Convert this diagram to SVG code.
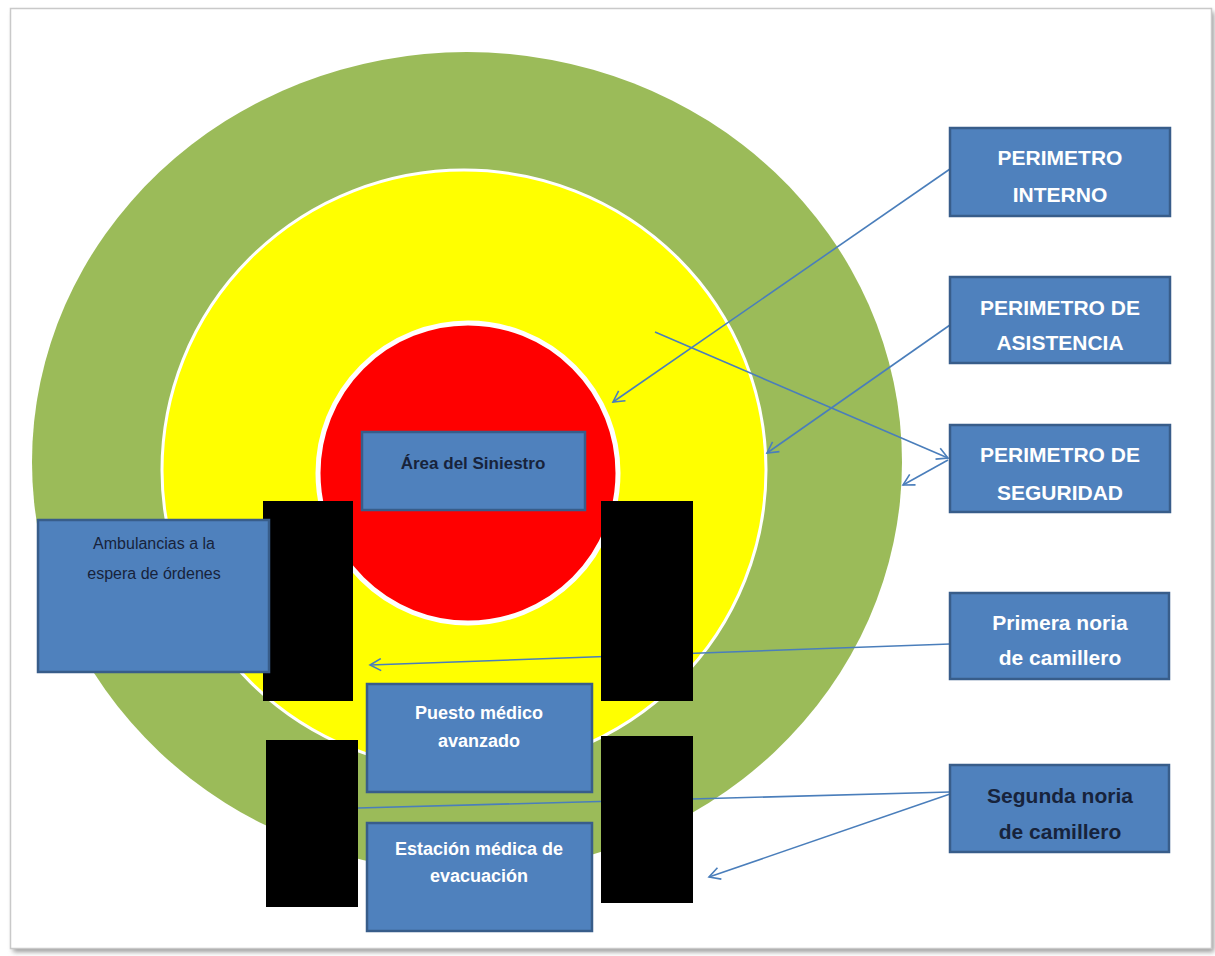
<svg xmlns="http://www.w3.org/2000/svg" width="1215" height="956" viewBox="0 0 1215 956">
  <style>
    .box { fill: #4f81bd; stroke: #385d8a; stroke-width: 2.5; }
    .blk { fill: #000000; }
    .conn { fill: none; stroke: #4a7ebb; stroke-width: 1.6; }
    .tw { font-family: "Liberation Sans", Arial, sans-serif; font-weight: bold; fill: #ffffff; text-anchor: middle; }
    .td { font-family: "Liberation Sans", Arial, sans-serif; font-weight: bold; fill: #17233b; text-anchor: middle; }
    .tr { font-family: "Liberation Sans", Arial, sans-serif; fill: #17233b; text-anchor: middle; }
  </style>
  <defs>
    <marker id="arr" markerUnits="userSpaceOnUse" markerWidth="14" markerHeight="14" refX="12" refY="7" orient="auto">
      <path d="M1,1 L12,7 L1,13" fill="none" stroke="#4a7ebb" stroke-width="1.6"/>
    </marker>
    <filter id="sh" x="-5%" y="-5%" width="110%" height="110%">
      <feGaussianBlur stdDeviation="2.5"/>
    </filter>
  </defs>

  <rect x="0" y="0" width="1215" height="956" fill="#ffffff"/>
  <!-- frame -->
  <g id="frame">
    <rect x="13" y="12" width="1201" height="940" fill="#9a9a9a" filter="url(#sh)"/>
    <rect x="10.5" y="8.5" width="1201" height="940" fill="#ffffff" stroke="#c9c9c9" stroke-width="1.5"/>
  </g>

  <!-- rings -->
  <g id="perimetro-seguridad-zone">
    <ellipse cx="467" cy="462" rx="435" ry="410" fill="#9bbb59"/>
  </g>
  <g id="perimetro-asistencia-zone">
    <ellipse cx="464" cy="470" rx="302" ry="300" fill="#ffff00" stroke="#ffffff" stroke-width="3"/>
  </g>
  <g id="perimetro-interno-zone">
    <circle cx="468" cy="473" r="150" fill="#ff0000" stroke="#ffffff" stroke-width="5"/>
  </g>

  <!-- connectors -->
  <g id="connectors">
    <path class="conn" d="M950,169 L613,402" marker-end="url(#arr)"/>
    <path class="conn" d="M950,325 L767,453" marker-end="url(#arr)"/>
    <path class="conn" d="M655,332 L948,458" marker-end="url(#arr)"/>
    <path class="conn" d="M948,460 L903,485" marker-end="url(#arr)"/>
    <path class="conn" d="M950,644 L370,665" marker-end="url(#arr)"/>
    <path class="conn" d="M950,792 L358,808"/>
    <path class="conn" d="M950,794 L709,877" marker-end="url(#arr)"/>
  </g>

  <!-- black blocks -->
  <g id="bloque-1"><rect class="blk" x="263" y="501" width="90" height="200"/></g>
  <g id="bloque-2"><rect class="blk" x="601" y="501" width="92" height="200"/></g>
  <g id="bloque-3"><rect class="blk" x="266" y="740" width="92" height="167"/></g>
  <g id="bloque-4"><rect class="blk" x="601" y="736" width="92" height="167"/></g>

  <!-- boxes -->
  <g id="area-siniestro">
    <rect class="box" x="362" y="432" width="223" height="78"/>
    <text class="td" x="473" y="469" font-size="17">Área del Siniestro</text>
  </g>
  <g id="ambulancias">
    <rect class="box" x="38" y="520" width="231" height="152"/>
    <text class="tr" x="154" y="549" font-size="16">Ambulancias a la</text>
    <text class="tr" x="154" y="579" font-size="16">espera de órdenes</text>
  </g>
  <g id="puesto-medico">
    <rect class="box" x="367" y="684" width="225" height="108"/>
    <text class="tw" x="479" y="719" font-size="18">Puesto médico</text>
    <text class="tw" x="479" y="747" font-size="18">avanzado</text>
  </g>
  <g id="estacion-medica">
    <rect class="box" x="367" y="823" width="225" height="108"/>
    <text class="tw" x="479" y="855" font-size="18">Estación médica de</text>
    <text class="tw" x="479" y="882" font-size="18">evacuación</text>
  </g>
  <g id="perimetro-interno">
    <rect class="box" x="950" y="128" width="220" height="88"/>
    <text class="tw" x="1060" y="165" font-size="21">PERIMETRO</text>
    <text class="tw" x="1060" y="202" font-size="21">INTERNO</text>
  </g>
  <g id="perimetro-asistencia">
    <rect class="box" x="950" y="277" width="220" height="86"/>
    <text class="tw" x="1060" y="315" font-size="21">PERIMETRO DE</text>
    <text class="tw" x="1060" y="350" font-size="21">ASISTENCIA</text>
  </g>
  <g id="perimetro-seguridad">
    <rect class="box" x="950" y="425" width="220" height="87"/>
    <text class="tw" x="1060" y="462" font-size="21">PERIMETRO DE</text>
    <text class="tw" x="1060" y="500" font-size="21">SEGURIDAD</text>
  </g>
  <g id="primera-noria">
    <rect class="box" x="950" y="593" width="219" height="86"/>
    <text class="tw" x="1060" y="630" font-size="21">Primera noria</text>
    <text class="tw" x="1060" y="665" font-size="21">de camillero</text>
  </g>
  <g id="segunda-noria">
    <rect class="box" x="950" y="765" width="219" height="87"/>
    <text class="td" x="1060" y="803" font-size="21">Segunda noria</text>
    <text class="td" x="1060" y="839" font-size="21">de camillero</text>
  </g>
</svg>
